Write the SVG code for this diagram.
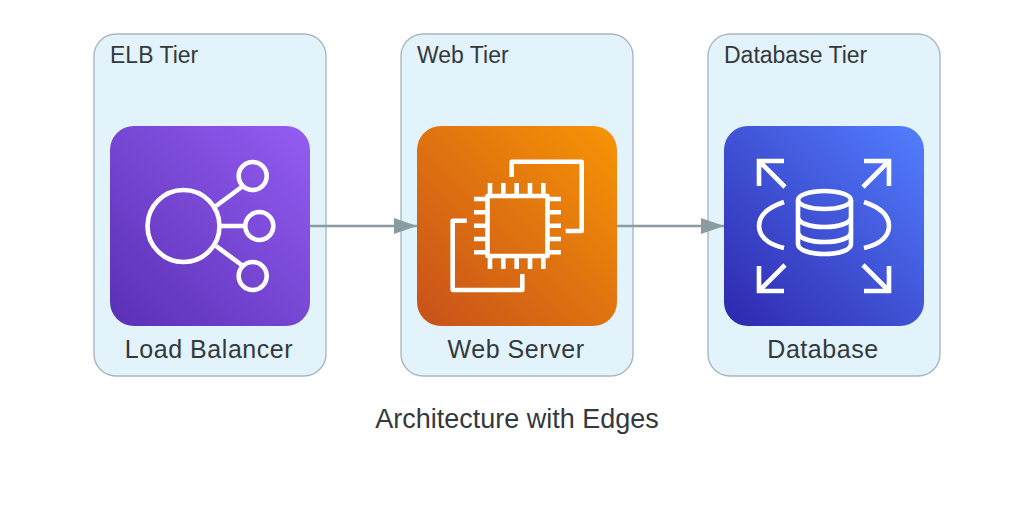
<svg xmlns="http://www.w3.org/2000/svg" width="1020" height="527" viewBox="0 0 1020 527">
<style>
text{font-family:"Liberation Sans",Arial,sans-serif;fill:#33393d}
.cl{fill:#e3f3fc;stroke:#a9b8c0;stroke-width:1.4}
.ct{font-size:23px}
.nl{font-size:25px;text-anchor:middle;letter-spacing:.55px}
.ic{fill:none;stroke:#fff;stroke-width:4.6}
.edge{stroke:#8b9ba2;stroke-width:2.6;fill:none;marker-end:url(#arrow)}
</style>
<defs>
<linearGradient id="gp" x1="0" y1="1" x2="1" y2="0"><stop offset="0" stop-color="#5a30b5"/><stop offset="1" stop-color="#945df2"/></linearGradient>
<linearGradient id="go" x1="0" y1="1" x2="1" y2="0"><stop offset="0" stop-color="#c8511b"/><stop offset="1" stop-color="#f79405"/></linearGradient>
<linearGradient id="gb" x1="0" y1="1" x2="1" y2="0"><stop offset="0" stop-color="#2e27ad"/><stop offset="1" stop-color="#527fff"/></linearGradient>
<marker id="arrow" markerUnits="userSpaceOnUse" markerWidth="24" markerHeight="18" refX="23" refY="9" orient="auto"><path d="M0 1L23 9L0 17Z" fill="#8b9ba2"/></marker>
</defs>
<rect width="1020" height="527" fill="#fff"/>
<g id="cluster-elb"><rect class="cl" x="94" y="34" width="232" height="342" rx="22"/><text class="ct" x="110" y="63">ELB Tier</text></g>
<g id="cluster-web"><rect class="cl" x="401" y="34" width="232" height="342" rx="22"/><text class="ct" x="417" y="63">Web Tier</text></g>
<g id="cluster-db"><rect class="cl" x="708" y="34" width="232" height="342" rx="22"/><text class="ct" x="724" y="63">Database Tier</text></g>
<g id="connectors">
<path class="edge" d="M310 226H417"/>
<path class="edge" d="M617 226H724"/>
</g>
<g id="node-lb">
<rect x="110" y="126" width="200" height="200" rx="24" fill="url(#gp)"/>
<g class="ic"><circle cx="183.5" cy="226" r="36"/><circle cx="252.7" cy="176" r="14"/><circle cx="259.3" cy="226" r="14"/><circle cx="252.7" cy="276" r="14"/><path d="M216 206L243 186M219.500 226H245M216 246L243 266"/></g>
<text class="nl" x="209" y="358">Load Balancer</text>
</g>
<g id="node-web">
<rect x="417" y="126" width="200" height="200" rx="24" fill="url(#go)"/>
<g class="ic" stroke-linejoin="round"><rect x="487.500" y="196" width="60" height="60"/>
<path d="M511.700 177V161.700H581.700V231H565.700M466.700 220.700H452.700V290H522.300V274"/>
<path d="M490 183V196M503.300 183V196M516.700 183V196M530 183V196M543.300 183V196M490 256V269M503.300 256V269M516.700 256V269M530 256V269M543.300 256V269M474 199H487.500M474 212.300H487.500M474 225.700H487.500M474 239H487.500M474 252.300H487.500M547.500 199H561M547.500 212.300H561M547.500 225.700H561M547.500 239H561M547.500 252.300H561"/></g>
<text class="nl" x="516" y="358">Web Server</text>
</g>
<g id="node-db">
<rect x="724" y="126" width="200" height="200" rx="24" fill="url(#gb)"/>
<g class="ic"><path d="M784 161H759V186M759 161L785 187M864 161H889V186M889 161L863 187M784 291H759V266M759 291L785 265M864 291H889V266M889 291L863 265"/>
<path d="M784 202C766 208 759 217 759 226S766 244 784 248M864 202C882 208 889 217 889 226S882 244 864 248"/>
<ellipse cx="824.500" cy="200" rx="26.500" ry="9"/>
<path d="M798 200V244C798 250 810 254 824.500 254S851 250 851 244V200M798 217C798 223 810 227 824.500 227S851 223 851 217M798 232C798 238 810 242 824.500 242S851 238 851 232"/></g>
<text class="nl" x="823" y="358">Database</text>
</g>
<text id="title" x="517" y="428" font-size="27" text-anchor="middle">Architecture with Edges</text>
</svg>
